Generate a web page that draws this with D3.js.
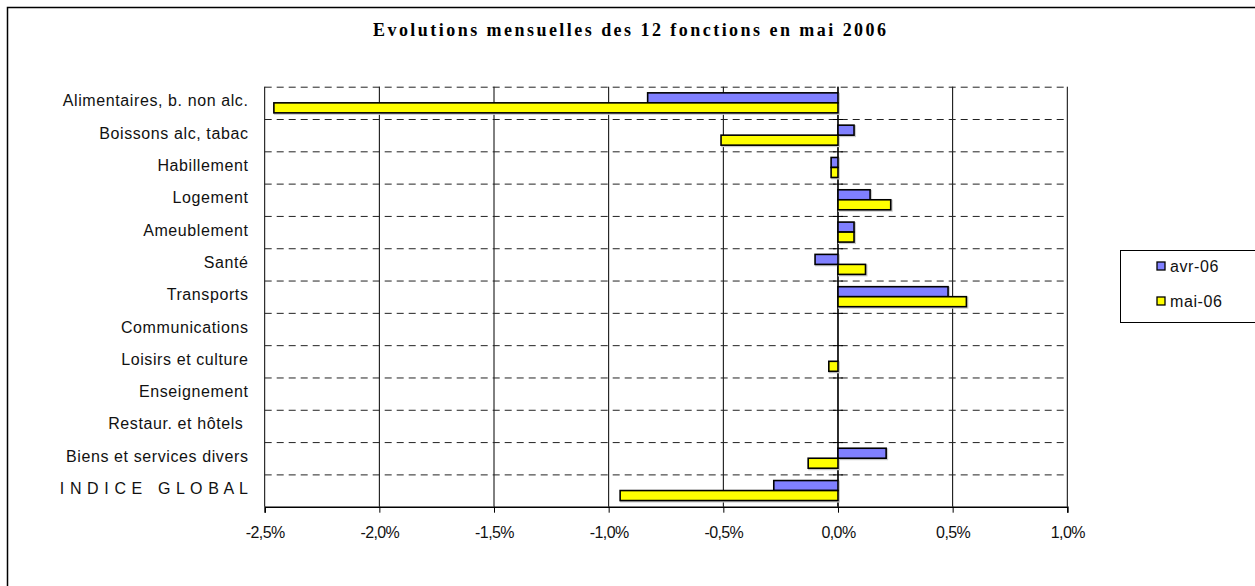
<!DOCTYPE html>
<html lang="fr">
  <head>
    <meta charset="utf-8">
    <title>Evolutions mensuelles</title>
    <script type="text/javascript" src="https://d3js.org/d3.v7.min.js"></script>
    <style type="text/css">
      body { margin: 0; background: #fff; }
      svg { display: block; }
      .cat text { font-family: "Liberation Sans", Arial, sans-serif; font-size: 16px; fill: #111; letter-spacing: 0.6px; white-space: pre; }
      .xlab { font-family: "Liberation Sans", Arial, sans-serif; font-size: 16px; fill: #111; letter-spacing: -0.6px; }
      .legend text { font-family: "Liberation Sans", Arial, sans-serif; font-size: 16px; fill: #111; letter-spacing: 0.6px; }
    </style>
  </head>
  <body>
    <script type="text/javascript">
      // data (monthly change, %)
      var categories = ["Alimentaires, b. non alc.", "Boissons alc, tabac", "Habillement", "Logement",
        "Ameublement", "Santé", "Transports", "Communications", "Loisirs et culture",
        "Enseignement", "Restaur. et hôtels ", "Biens et services divers", "I N D I C E   G L O B A L"];
      var seriesNames = ["avr-06", "mai-06"];
      var avr06 = [-0.83, 0.07, -0.03, 0.14, 0.07, -0.10, 0.48, 0, 0, 0, 0, 0.21, -0.28];
      var mai06 = [-2.46, -0.51, -0.03, 0.23, 0.07, 0.12, 0.56, 0, -0.04, 0, 0, -0.13, -0.95];
      var tickValues = [-2.5, -2.0, -1.5, -1.0, -0.5, 0.0, 0.5, 1.0];
      var colors = ["#8080ff", "#ffff00"];

      var width = 1255, height = 586;
      var pLeft = 264.7, pRight = 1067.3, pTop = 86.7, pBottom = 506.7;

      var rows = categories.map(function(c, i) {
        return {cat: c, vals: [avr06[i], mai06[i]]};
      });

      var svg = d3.select("body").append("svg")
        .attr("width", width)
        .attr("height", height);

      // outer frame (runs off right and bottom)
      svg.append("rect")
        .attr("x", 7.5).attr("y", 7.5)
        .attr("width", 1400).attr("height", 800)
        .attr("fill", "none").attr("stroke", "#000").attr("stroke-width", 1.5);

      svg.append("text")
        .attr("x", 373).attr("y", 36)
        .attr("textLength", 513).attr("lengthAdjust", "spacing")
        .style("font-family", "'Liberation Serif', 'Times New Roman', serif")
        .style("font-weight", "bold").style("font-size", "18px")
        .text("Evolutions mensuelles des 12 fonctions en mai 2006");

      var x = d3.scaleLinear().domain([-2.5, 1.0]).range([pLeft, pRight]);
      var y = d3.scaleBand().domain(categories).range([pTop, pBottom]);
      var ySub = d3.scaleBand().domain(seriesNames).range([0, y.bandwidth()]).paddingOuter(0.615);

      // vertical solid gridlines
      svg.append("g").selectAll("line")
        .data(tickValues)
        .enter().append("line")
        .attr("x1", function(d) { return x(d); }).attr("x2", function(d) { return x(d); })
        .attr("y1", pTop).attr("y2", pBottom)
        .attr("stroke", "#000").attr("stroke-width", 1);

      // horizontal dashed gridlines at category boundaries
      svg.append("g").selectAll("line")
        .data(categories)
        .enter().append("line")
        .attr("x1", pLeft).attr("x2", pRight)
        .attr("y1", function(d) { return y(d) + 0.5; }).attr("y2", function(d) { return y(d) + 0.5; })
        .attr("stroke", "#222").attr("stroke-width", 1)
        .attr("stroke-dasharray", "7,5");

      // category axis at zero with cross ticks
      var z = svg.append("g");
      z.append("line")
        .attr("x1", x(0)).attr("x2", x(0)).attr("y1", pTop).attr("y2", pBottom)
        .attr("stroke", "#000").attr("stroke-width", 1.3);
      z.selectAll(".ct").data(categories.slice(1)).enter().append("line")
        .attr("x1", x(0) - 5).attr("x2", x(0) + 5)
        .attr("y1", function(d) { return y(d) + 0.5; }).attr("y2", function(d) { return y(d) + 0.5; })
        .attr("stroke", "#000");

      // bars
      var groups = svg.append("g").selectAll("g")
        .data(rows)
        .enter().append("g")
        .attr("transform", function(d) { return "translate(0," + y(d.cat) + ")"; });

      function barData(d) {
        return d.vals.map(function(v, i) { return {v: v, s: seriesNames[i], i: i}; })
          .filter(function(b) { return b.v !== 0; });
      }

      groups.selectAll("rect.shadow")
        .data(barData)
        .enter().append("rect")
        .attr("class", "shadow")
        .attr("x", function(d) { return Math.min(x(0), x(d.v)) + 1; })
        .attr("y", function(d) { return ySub(d.s) + 1; })
        .attr("width", function(d) { return Math.abs(x(d.v) - x(0)); })
        .attr("height", ySub.bandwidth())
        .attr("fill", "none").attr("stroke", "#ccc").attr("stroke-width", 2);

      groups.selectAll("rect.bar")
        .data(barData)
        .enter().append("rect")
        .attr("class", "bar")
        .attr("x", function(d) { return Math.min(x(0), x(d.v)); })
        .attr("y", function(d) { return ySub(d.s); })
        .attr("width", function(d) { return Math.abs(x(d.v) - x(0)); })
        .attr("height", ySub.bandwidth())
        .attr("fill", function(d) { return colors[d.i]; })
        .attr("stroke", "#000").attr("stroke-width", 1.6);

      // bottom value axis
      var xAxis = d3.axisBottom(x)
        .tickValues(tickValues)
        .tickSize(6)
        .tickFormat(function(d) { return d3.format(".1f")(d).replace(".", ",").replace("−", "-") + "%"; });
      var ax = svg.append("g")
        .attr("transform", "translate(0," + pBottom + ")")
        .call(xAxis);
      ax.select(".domain").attr("stroke-width", 1.5);
      ax.selectAll("text").attr("class", "xlab").attr("y", 31).attr("dy", 0);

      // category labels
      svg.append("g").attr("class", "cat").selectAll("text")
        .data(categories)
        .enter().append("text")
        .attr("x", 248.5)
        .attr("y", function(d) { return y(d) + y.bandwidth() / 2 + 3.5; })
        .attr("text-anchor", "end")
        .attr("xml:space", "preserve")
        .text(function(d) { return d; });

      // legend
      var lg = svg.append("g").attr("class", "legend");
      lg.append("rect")
        .attr("x", 1120.5).attr("y", 250.5).attr("width", 300).attr("height", 72)
        .attr("fill", "#fff").attr("stroke", "#000").attr("stroke-width", 1);
      var li = lg.selectAll("g.item").data(seriesNames).enter().append("g")
        .attr("transform", function(d, i) { return "translate(1157," + (262 + i * 35) + ")"; });
      li.append("rect")
        .attr("width", 8).attr("height", 8)
        .attr("fill", function(d, i) { return colors[i]; })
        .attr("stroke", "#000").attr("stroke-width", 1.3);
      li.append("text").attr("x", 13).attr("y", 10).text(function(d) { return d; });
    </script>
  </body>
</html>
